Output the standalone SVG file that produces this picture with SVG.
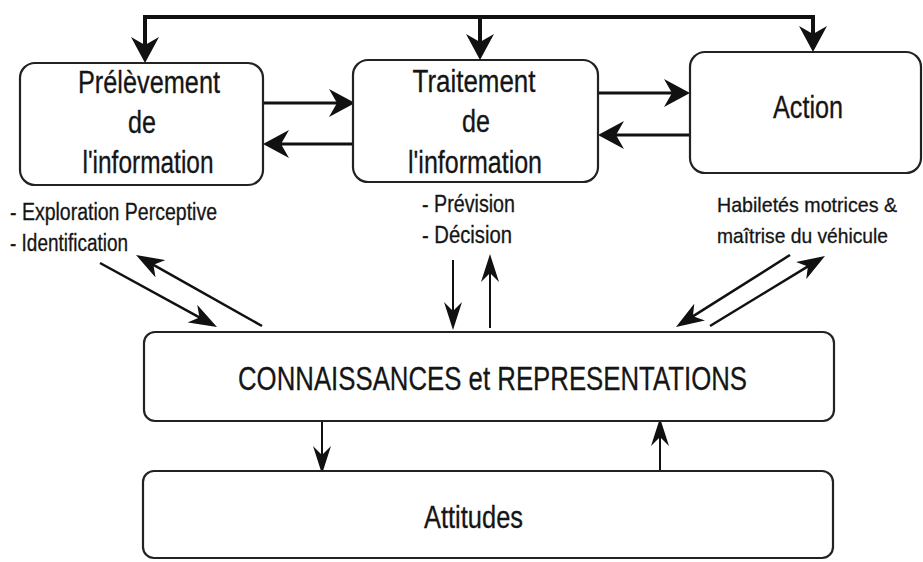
<svg xmlns="http://www.w3.org/2000/svg" width="923" height="562" viewBox="0 0 923 562">
<style>
.box{fill:#fff;stroke:#222;stroke-width:2.2}
.t{font-family:"Liberation Sans",Arial,sans-serif;fill:#151515;stroke:#151515;stroke-width:0.3}
.bt{font-size:31px;text-anchor:middle}
.lb{font-size:23px}
.lr{font-size:21px}
.c{fill:none;stroke:#111;stroke-linecap:butt}
</style>
<defs>
<marker id="mA" markerUnits="userSpaceOnUse" viewBox="0 0 26 28" markerWidth="26" markerHeight="28" refX="10" refY="14" orient="auto-start-reverse">
<path d="M0,0 L26,14 L0,28 L8,14 Z" fill="#111"/>
</marker>
<marker id="mD" markerUnits="userSpaceOnUse" viewBox="0 0 28 20" markerWidth="28" markerHeight="20" refX="10" refY="10" orient="auto">
<path d="M0,0 L28,10 L0,20 L8,10 Z" fill="#111"/>
</marker>
<marker id="mS" markerUnits="userSpaceOnUse" viewBox="0 0 28 18" markerWidth="28" markerHeight="18" refX="10" refY="9" orient="auto">
<path d="M0,0 L28,9 L0,18 L9,9 Z" fill="#111"/>
</marker>
</defs>
<rect width="923" height="562" fill="#fff"/>

<g id="connectors">
<path class="c" d="M145,47 V17 H813 V36" stroke-width="4" stroke-linejoin="miter" marker-start="url(#mA)" marker-end="url(#mA)"/>
<line class="c" x1="480" y1="17" x2="480" y2="44" stroke-width="4" marker-end="url(#mA)"/>
<line class="c" x1="263" y1="103" x2="339" y2="103" stroke-width="3" marker-end="url(#mA)"/>
<line class="c" x1="352" y1="144" x2="279" y2="144" stroke-width="3" marker-end="url(#mA)"/>
<line class="c" x1="598" y1="93" x2="674" y2="93" stroke-width="3" marker-end="url(#mA)"/>
<line class="c" x1="690" y1="135" x2="614" y2="135" stroke-width="3" marker-end="url(#mA)"/>
<line class="c" x1="100" y1="263" x2="201.2" y2="318.4" stroke-width="2.5" marker-end="url(#mD)"/>
<line class="c" x1="262" y1="326" x2="151.7" y2="263.8" stroke-width="2.5" marker-end="url(#mD)"/>
<line class="c" x1="790" y1="255" x2="691.2" y2="317.4" stroke-width="2.5" marker-end="url(#mD)"/>
<line class="c" x1="710" y1="326" x2="809.6" y2="265.4" stroke-width="2.5" marker-end="url(#mD)"/>
<line class="c" x1="453" y1="260" x2="453" y2="312" stroke-width="2" marker-end="url(#mS)"/>
<line class="c" x1="490" y1="328" x2="490" y2="272" stroke-width="2" marker-end="url(#mS)"/>
<line class="c" x1="322" y1="422" x2="322" y2="456" stroke-width="2" marker-end="url(#mS)"/>
<line class="c" x1="660" y1="470" x2="660" y2="436" stroke-width="2" marker-end="url(#mS)"/>
</g>

<g id="prelevement">
<rect class="box" x="20" y="63" width="243" height="122" rx="15"/>
<text class="t bt" x="149" y="93" textLength="142" lengthAdjust="spacingAndGlyphs">Prélèvement</text>
<text class="t bt" x="142" y="133" textLength="28" lengthAdjust="spacingAndGlyphs">de</text>
<text class="t bt" x="148" y="173" textLength="131" lengthAdjust="spacingAndGlyphs">l'information</text>
</g>

<g id="traitement">
<rect class="box" x="353" y="60" width="245" height="122" rx="15"/>
<text class="t bt" x="474" y="92" textLength="123" lengthAdjust="spacingAndGlyphs">Traitement</text>
<text class="t bt" x="476" y="132" textLength="28" lengthAdjust="spacingAndGlyphs">de</text>
<text class="t bt" x="475" y="173" textLength="134" lengthAdjust="spacingAndGlyphs">l'information</text>
</g>

<g id="action">
<rect class="box" x="690" y="52" width="231" height="121" rx="15"/>
<text class="t bt" x="808" y="118" textLength="70" lengthAdjust="spacingAndGlyphs">Action</text>
</g>

<g id="labels">
<text class="t lb" x="10" y="220" textLength="207" lengthAdjust="spacingAndGlyphs">- Exploration Perceptive</text>
<text class="t lb" x="10" y="251" textLength="118" lengthAdjust="spacingAndGlyphs">- Identification</text>
<text class="t lb" x="422" y="212" textLength="93" lengthAdjust="spacingAndGlyphs">- Prévision</text>
<text class="t lb" x="422" y="243" textLength="90" lengthAdjust="spacingAndGlyphs">- Décision</text>
<text class="t lr" x="717" y="212" textLength="180" lengthAdjust="spacingAndGlyphs">Habiletés motrices &amp;</text>
<text class="t lr" x="717" y="243" textLength="171" lengthAdjust="spacingAndGlyphs">maîtrise du véhicule</text>
</g>

<g id="connaissances">
<rect class="box" x="144" y="332" width="690" height="89" rx="11"/>
<text class="t" x="238" y="390" font-size="34" textLength="509" lengthAdjust="spacingAndGlyphs">CONNAISSANCES et REPRESENTATIONS</text>
</g>

<g id="attitudes">
<rect class="box" x="143" y="471" width="690" height="87" rx="11"/>
<text class="t" x="424" y="528" font-size="32" textLength="99" lengthAdjust="spacingAndGlyphs">Attitudes</text>
</g>
</svg>
